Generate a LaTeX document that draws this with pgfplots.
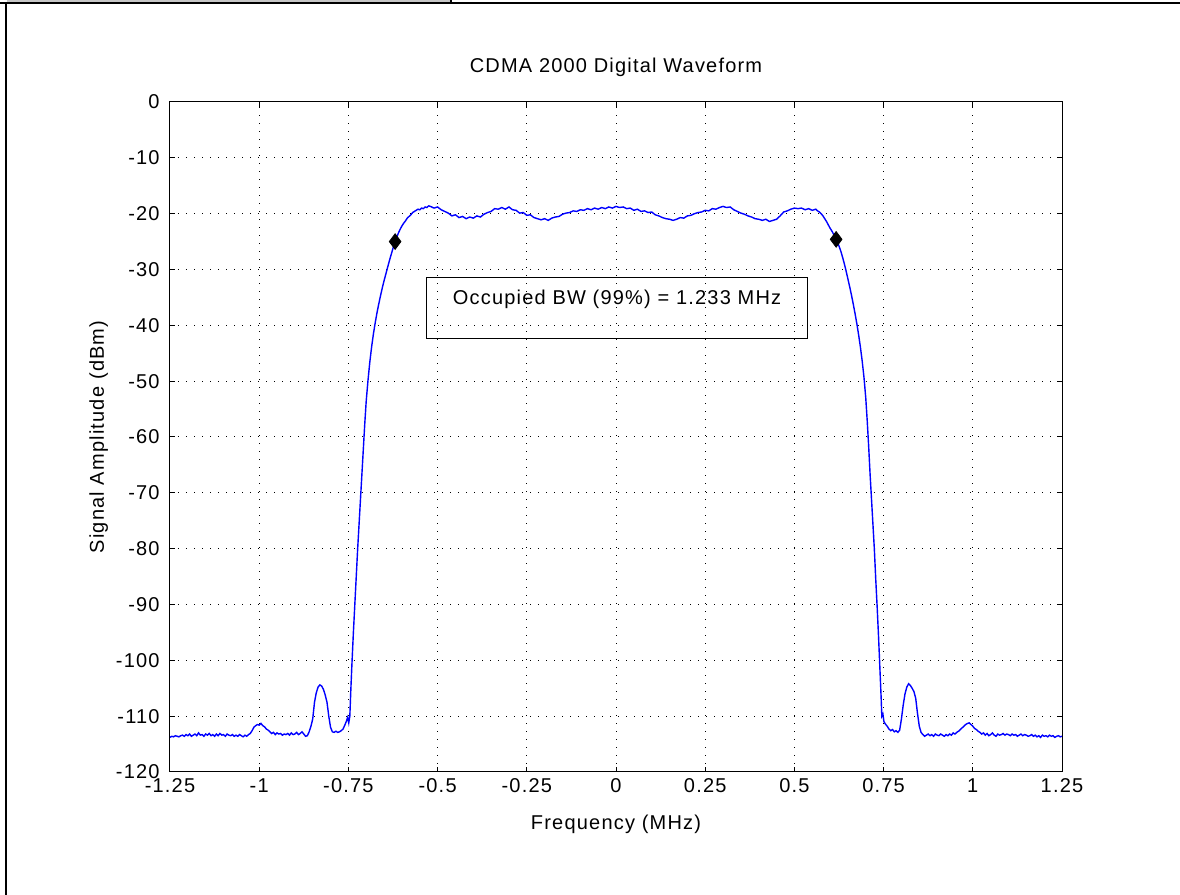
\documentclass[border=0pt]{standalone}
\usepackage{fontspec}
\setmainfont{Liberation Sans}[LetterSpace=6]
\usepackage{pgfplots}
\pgfplotsset{compat=1.18}
\pgfplotstableread{
x y
-1.25 -113.8
-1.245 -113.6
-1.24 -113.7
-1.235 -113.5
-1.23 -113.6
-1.225 -113.7
-1.22 -113.5
-1.215 -113.4
-1.21 -113.6
-1.205 -113.3
-1.20 -113.5
-1.195 -113.2
-1.19 -113.6
-1.185 -113.4
-1.18 -113.2
-1.175 -113.5
-1.17 -113.0
-1.165 -113.4
-1.16 -113.3
-1.155 -113.6
-1.15 -113.2
-1.145 -113.4
-1.14 -113.1
-1.135 -113.5
-1.13 -113.3
-1.125 -113.6
-1.12 -113.2
-1.115 -113.5
-1.11 -113.1
-1.105 -113.4
-1.10 -113.3
-1.095 -113.6
-1.09 -113.2
-1.085 -113.4
-1.08 -113.5
-1.075 -113.3
-1.07 -113.6
-1.065 -113.4
-1.06 -113.6
-1.055 -113.3
-1.05 -113.5
-1.045 -113.7
-1.04 -113.4
-1.035 -113.6
-1.03 -113.3
-1.025 -113.1
-1.02 -112.6
-1.015 -112.0
-1.01 -111.7
-1.005 -111.5
-1.00 -111.6
-0.995 -111.3
-0.99 -111.7
-0.985 -111.9
-0.98 -112.3
-0.975 -112.5
-0.97 -112.8
-0.965 -113.1
-0.96 -112.9
-0.955 -113.3
-0.95 -113.0
-0.945 -113.2
-0.94 -113.1
-0.935 -113.4
-0.93 -113.2
-0.925 -113.3
-0.92 -113.1
-0.915 -113.4
-0.91 -113.0
-0.905 -113.3
-0.90 -113.2
-0.895 -112.9
-0.89 -113.3
-0.885 -113.1
-0.88 -112.8
-0.875 -113.2
-0.87 -113.6
-0.865 -113.5
-0.86 -112.8
-0.855 -111.8
-0.85 -110.5
-0.845 -107.5
-0.84 -105.8
-0.835 -104.8
-0.83 -104.4
-0.825 -104.6
-0.82 -105.2
-0.815 -106.2
-0.81 -107.5
-0.805 -110.0
-0.80 -112.0
-0.795 -112.8
-0.79 -112.9
-0.785 -112.7
-0.78 -112.9
-0.775 -112.8
-0.77 -112.6
-0.765 -112.3
-0.76 -111.6
-0.755 -110.8
-0.752 -110.2
-0.749 -111.2
-0.746 -110.0
-0.743 -105.0
-0.740 -100.5
-0.736 -95.0
-0.732 -90.0
-0.728 -85
-0.724 -80
-0.72 -75.5
-0.716 -71
-0.712 -66.5
-0.708 -62
-0.704 -57.5
-0.70 -53.5
-0.695 -49.8
-0.69 -46.6
-0.685 -43.9
-0.68 -41.6
-0.675 -39.6
-0.67 -37.8
-0.665 -36.2
-0.66 -34.7
-0.655 -33.3
-0.65 -32.0
-0.645 -30.8
-0.64 -29.6
-0.635 -28.4
-0.63 -27.3
-0.625 -26.2
-0.62 -25.1
-0.615 -24.3
-0.61 -23.5
-0.605 -22.8
-0.60 -22.2
-0.595 -21.7
-0.59 -21.3
-0.585 -20.8
-0.58 -20.5
-0.575 -20.2
-0.57 -19.8
-0.565 -19.6
-0.56 -19.4
-0.555 -19.2
-0.55 -19.3
-0.545 -19.0
-0.54 -19.1
-0.535 -18.8
-0.53 -18.9
-0.525 -18.6
-0.52 -18.7
-0.51 -19.0
-0.50 -18.8
-0.49 -19.3
-0.48 -19.6
-0.47 -19.9
-0.46 -20.4
-0.45 -20.2
-0.44 -20.7
-0.43 -20.5
-0.42 -20.9
-0.41 -20.6
-0.40 -20.8
-0.39 -20.4
-0.38 -20.6
-0.37 -20.1
-0.36 -19.8
-0.35 -19.6
-0.34 -19.1
-0.33 -19.2
-0.32 -18.9
-0.31 -19.2
-0.30 -18.8
-0.29 -19.3
-0.28 -19.4
-0.27 -19.9
-0.26 -19.8
-0.25 -20.3
-0.24 -20.2
-0.23 -20.7
-0.22 -20.9
-0.21 -21.1
-0.20 -20.9
-0.19 -21.2
-0.18 -20.8
-0.17 -20.6
-0.16 -20.5
-0.15 -20.1
-0.14 -19.9
-0.13 -19.8
-0.12 -19.5
-0.11 -19.6
-0.10 -19.3
-0.09 -19.4
-0.08 -19.1
-0.07 -19.3
-0.06 -19.0
-0.05 -19.2
-0.04 -18.9
-0.03 -19.1
-0.02 -18.8
-0.01 -19.0
0.00 -18.7
0.01 -18.9
0.02 -18.8
0.03 -19.1
0.04 -19.0
0.05 -19.4
0.06 -19.2
0.07 -19.6
0.08 -19.5
0.09 -19.8
0.10 -19.7
0.11 -20.2
0.12 -20.4
0.13 -20.7
0.14 -20.9
0.15 -21.0
0.16 -21.2
0.17 -21.0
0.18 -20.7
0.19 -20.8
0.20 -20.4
0.21 -20.3
0.22 -20.0
0.23 -19.8
0.24 -19.7
0.25 -19.4
0.26 -19.5
0.27 -19.1
0.28 -19.2
0.29 -18.9
0.30 -18.7
0.31 -18.9
0.32 -18.8
0.33 -19.3
0.34 -19.6
0.35 -19.9
0.36 -20.1
0.37 -20.4
0.38 -20.6
0.39 -20.9
0.40 -21.0
0.41 -21.2
0.42 -21.0
0.43 -21.4
0.44 -21.2
0.45 -21.0
0.46 -20.4
0.47 -19.7
0.48 -19.5
0.49 -19.2
0.50 -19.0
0.51 -19.1
0.52 -19.0
0.53 -19.3
0.54 -19.1
0.55 -19.4
0.56 -19.2
0.565 -19.5
0.57 -19.7
0.575 -20.0
0.58 -20.4
0.585 -20.9
0.59 -21.4
0.595 -22.0
0.60 -22.6
0.605 -23.1
0.61 -23.7
0.615 -24.3
0.62 -25.0
0.625 -25.8
0.63 -26.7
0.635 -27.8
0.64 -29.0
0.645 -30.3
0.65 -31.7
0.655 -33.1
0.66 -34.6
0.665 -36.2
0.67 -37.9
0.675 -39.7
0.68 -41.7
0.685 -43.9
0.69 -46.4
0.695 -49.3
0.70 -53.0
0.704 -57
0.708 -61.5
0.712 -66.5
0.716 -71
0.72 -75.5
0.724 -80
0.728 -85.5
0.732 -90.5
0.736 -96
0.74 -102
0.743 -106.5
0.745 -110.0
0.748 -109.6
0.751 -111.0
0.755 -111.4
0.76 -111.8
0.765 -112.3
0.77 -112.6
0.775 -112.4
0.78 -112.8
0.785 -112.6
0.79 -112.9
0.795 -112.5
0.80 -110.5
0.805 -108.0
0.81 -106.0
0.815 -104.8
0.82 -104.2
0.825 -104.5
0.83 -105.0
0.835 -105.6
0.84 -106.8
0.845 -109.5
0.85 -111.8
0.855 -112.9
0.86 -113.3
0.865 -113.6
0.87 -113.4
0.875 -113.2
0.88 -113.5
0.885 -113.3
0.89 -113.6
0.895 -113.2
0.90 -113.4
0.905 -113.5
0.91 -113.2
0.915 -113.4
0.92 -113.6
0.925 -113.3
0.93 -113.5
0.935 -113.2
0.94 -113.4
0.945 -113.0
0.95 -113.2
0.955 -112.9
0.96 -112.7
0.965 -112.4
0.97 -112.1
0.975 -111.8
0.98 -111.5
0.985 -111.3
0.99 -111.2
0.995 -111.5
1.00 -111.8
1.005 -112.2
1.01 -112.4
1.015 -112.7
1.02 -112.9
1.025 -113.2
1.03 -113.0
1.035 -113.4
1.04 -113.1
1.045 -113.5
1.05 -113.3
1.055 -113.0
1.06 -113.4
1.065 -113.6
1.07 -113.2
1.075 -113.4
1.08 -113.3
1.085 -113.1
1.09 -113.4
1.095 -113.2
1.10 -113.3
1.105 -113.5
1.11 -113.2
1.115 -113.4
1.12 -113.3
1.125 -113.6
1.13 -113.4
1.135 -113.2
1.14 -113.5
1.145 -113.3
1.15 -113.4
1.155 -113.6
1.16 -113.5
1.165 -113.3
1.17 -113.6
1.175 -113.4
1.18 -113.7
1.185 -113.5
1.19 -113.8
1.195 -113.4
1.20 -113.6
1.205 -113.5
1.21 -113.7
1.215 -113.4
1.22 -113.6
1.225 -113.5
1.23 -113.8
1.235 -113.6
1.24 -113.5
1.245 -113.7
1.25 -113.6
}\spectrum
\begin{document}
\fontsize{10pt}{12pt}\selectfont
\begin{tikzpicture}
\useasboundingbox (0,0) rectangle (590pt,447.5pt);
% window frame
\fill[gray!45] (3.5pt,447.5pt) rectangle (225.5pt,446pt);
\draw[line width=1pt] (0,446pt) -- (590pt,446pt);
\draw[line width=1pt] (3pt,446.5pt) -- (3pt,0);
\draw[line width=1pt] (225.5pt,447.5pt) -- (225.5pt,446pt);
\begin{axis}[
  at={(85pt,61.5pt)}, anchor=south west,
  scale only axis, width=446pt, height=335pt,
  xmin=-1.25, xmax=1.25, ymin=-120, ymax=0,
  xtick={-1.25,-1,-0.75,-0.5,-0.25,0,0.25,0.5,0.75,1,1.25},
  xticklabels={-1.25,-1,-0.75,-0.5,-0.25,0,0.25,0.5,0.75,1,1.25},
  ytick={-120,-110,-100,-90,-80,-70,-60,-50,-40,-30,-20,-10,0},
  yticklabels={-120,-110,-100,-90,-80,-70,-60,-50,-40,-30,-20,-10,0},
  tick align=inside, major tick length=2.5pt,
  tick style={black, line width=0.5pt},
  axis line style={black, line width=0.5pt},
  grid=major,
  major grid style={black, line width=0.5pt, dash pattern=on 0.5pt off 3.5pt},
  xticklabel style={anchor=base, inner sep=0pt, yshift=-10.5pt},
  yticklabel style={anchor=east, inner sep=0pt, xshift=-5pt},
  title={CDMA 2000 Digital Waveform},
  title style={at={(axis description cs:0.5,1)}, anchor=base, yshift=8.5pt},
  xlabel={Frequency (MHz)},
  xlabel style={at={(axis description cs:0.5,-0.0851)}, anchor=base},
  ylabel={Signal Amplitude (dBm)},
  ylabel style={at={(axis description cs:-0.074,0.5)}, anchor=base},
]
\addplot[color={rgb,255:red,0;green,0;blue,255}, line width=0.7pt, no marks] table[x=x,y=y] {\spectrum};
\addplot[only marks, mark=diamond*, mark size=3.9pt, black] coordinates {(-0.619,-25.0) (0.617,-24.6)};
\draw[black, line width=0.5pt] (axis cs:-0.5325,-31.5) rectangle (axis cs:0.538,-42.3);
\node[anchor=center] at (axis cs:0.003,-35.3) {Occupied BW (99\%) = 1.233 MHz};
\end{axis}
\end{tikzpicture}
\end{document}
